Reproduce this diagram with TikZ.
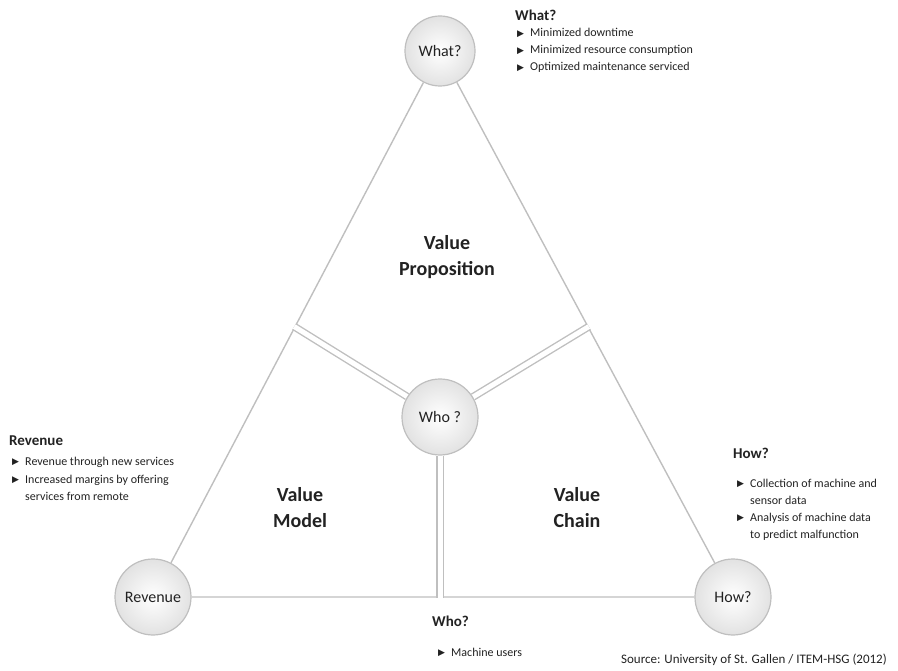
\documentclass[tikz,border=0pt]{standalone}
\usepackage{fontspec}
\setmainfont{Carlito}
\newfontfamily\symfont{DejaVu Sans}
\usetikzlibrary{calc,backgrounds}
\definecolor{edge}{HTML}{BFBFBF}
\definecolor{ink}{HTML}{222222}
\definecolor{ringfill}{HTML}{E2E2E2}
\newcommand{\bultri}{\makebox[13pt][l]{\symfont\fontsize{9}{9}\selectfont\raisebox{0.2pt}{▶}}}

\begin{document}
\begin{tikzpicture}[x=1pt,y=-1pt,
  outline/.style={draw=edge, line width=1.4pt},
  divider/.style={draw=edge, line width=1.4pt, double=white, double distance=5pt},
  ring/.style={circle, draw=edge, line width=1.2pt, inner color=white, outer color=ringfill,
    minimum size=76pt, inner sep=0pt, text=ink, font=\fontsize{16}{18}\selectfont},
  region/.style={text=ink, align=center, font=\bfseries\fontsize{20}{26}\selectfont},
  head/.style={text=ink, anchor=base west, inner sep=0pt, font=\bfseries\fontsize{15}{18}\selectfont},
  bul/.style={text=ink, anchor=base west, inner sep=0pt, font=\fontsize{12}{14}\selectfont},
]
\useasboundingbox (0,0) rectangle (898,671);

% corner and centre circles
\node[ring, minimum size=70pt] (what) at (440,51) {What?};
\node[ring] (who) at (440,417) {Who ?};
\node[ring] (rev) at (153,597) {Revenue};
\node[ring] (how) at (733,597) {How?};

% points where the dividers meet the outer edges
\coordinate (L) at ($(what.center)!0.5055!(rev.center)$);
\coordinate (R) at ($(what.center)!0.5055!(how.center)$);
\coordinate (D) at ($(rev.center)!0.5!(how.center)$);
\coordinate (D) at (who.center |- D);

\begin{pgfonlayer}{background}
  \draw[outline] (what) -- (rev) -- (how) -- (what);
  \draw[divider, shorten >=-0.8pt] (who) -- (L);
  \draw[divider, shorten >=-0.8pt] (who) -- (R);
  \draw[divider, shorten >=-0.8pt] (who) -- (D);
\end{pgfonlayer}

% segment titles
\node[region] (vp) at (447,257) {Value\\Proposition};
\node[region] (vm) at (300,508) {Value\\Model};
\node[region] (vc) at (577,508) {Value\\Chain};

% What?
\node[head] (hwhat) at (515,21) {What?};
\node[bul] (w1) at (517,37) {\bultri Minimized downtime};
\node[bul] (w2) at (517,54) {\bultri Minimized resource consumption};
\node[bul] (w3) at (517,71) {\bultri Optimized maintenance serviced};

% Revenue
\node[head] (hrev) at (9,445) {Revenue};
\node[bul] (r1) at (12,465) {\bultri Revenue through new services};
\node[bul] (r2) at (12,483) {\bultri Increased margins by offering};
\node[bul] (r3) at (25,500) {services from remote};

% How?
\node[head] (hhow) at (733,458) {How?};
\node[bul] (h1) at (737,487) {\bultri Collection of machine and};
\node[bul] (h2) at (750,504) {sensor data};
\node[bul] (h3) at (737,521) {\bultri Analysis of machine data};
\node[bul] (h4) at (750,538) {to predict malfunction};

% Who?
\node[head] (hwho) at (432,626) {Who?};
\node[bul] (u1) at (438,656) {\bultri Machine users};

% source line
\node[text=ink, anchor=base east, inner sep=0pt, font=\fontsize{13}{15}\selectfont] (src) at (887,663)
  {Source: University of St. Gallen / ITEM-HSG (2012)};
\end{tikzpicture}
\end{document}
